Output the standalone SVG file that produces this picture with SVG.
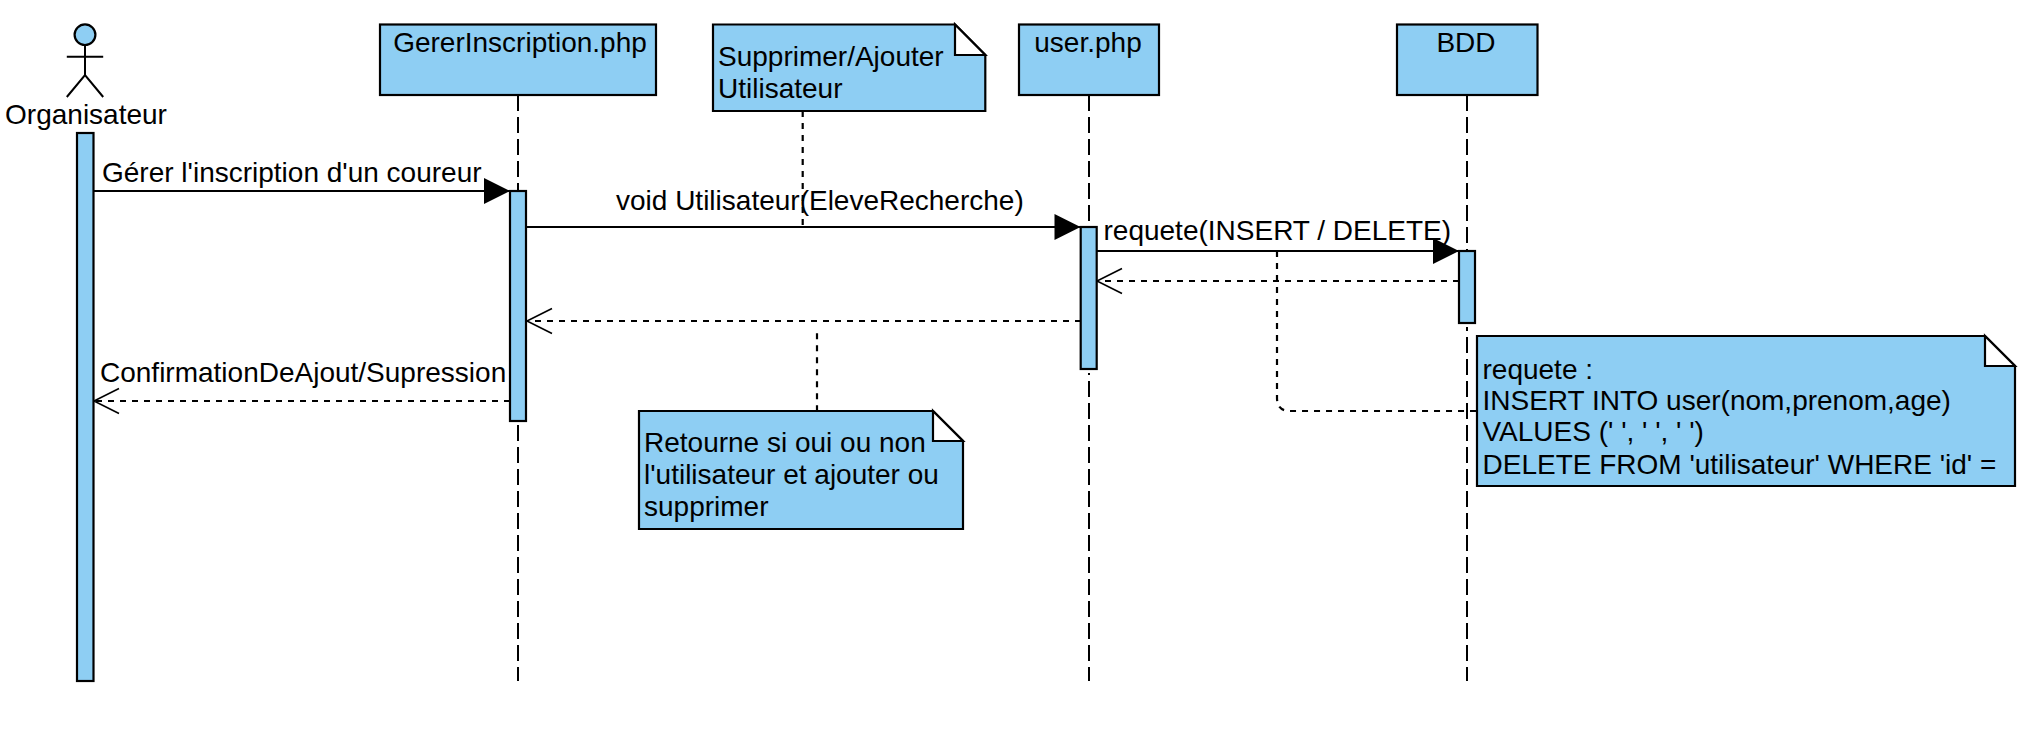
<svg xmlns="http://www.w3.org/2000/svg" width="2034" height="732" viewBox="0 0 2034 732">
<style>
text { font-family: "Liberation Sans", Arial, Helvetica, sans-serif; font-size: 28px; fill: #000; }
.box { fill: #8ecef3; stroke: #000; stroke-width: 2.2; }
.fold { fill: #fff; stroke: #000; stroke-width: 2.2; stroke-linejoin: miter; }
.life { fill: none; stroke: #000; stroke-width: 2; stroke-dasharray: 16 6; }
.up { stroke-dashoffset: 2; }
.msg { fill: none; stroke: #000; stroke-width: 2.2; marker-end: url(#filled); }
.ret { fill: none; stroke: #000; stroke-width: 2.2; stroke-dasharray: 6 6; marker-end: url(#open); }
.link { fill: none; stroke: #000; stroke-width: 2.2; stroke-dasharray: 6 6; }
.mid { text-anchor: middle; }
</style>
<defs>
<marker id="filled" markerUnits="userSpaceOnUse" markerWidth="28" markerHeight="28" refX="26" refY="13" orient="auto" overflow="visible"><path d="M0 0 L26 13 L0 26 Z" fill="#000"/></marker>
<marker id="open" markerUnits="userSpaceOnUse" markerWidth="28" markerHeight="28" refX="25" refY="12.5" orient="auto" overflow="visible"><path d="M0 0 L25 12.5 L0 25" fill="none" stroke="#000" stroke-width="1.6"/></marker>
</defs>
<rect width="2034" height="732" fill="#fff"/>
<g id="lifelines">
<path class="life" d="M518 95 V191"/>
<path class="life" d="M518 425 V681"/>
<path class="life" d="M1089 95 V222"/>
<path class="life up" d="M1089 681 V373"/>
<path class="life" d="M1467 95 V251"/>
<path class="life up" d="M1467 681 V327"/>
</g>
<g id="connectors">
<path class="link" d="M802.7 111 V227"/>
<path class="link" d="M817 333.3 V411"/>
<path class="link" d="M1277 251 V398 Q1277 411 1290 411 H1477"/>
<path class="msg" d="M92 191 H510"/>
<path class="msg" d="M526 227 H1080.500"/>
<path class="msg" d="M1096 251 H1459"/>
<path class="ret" d="M1459 281 H1097"/>
<path class="ret" d="M1081 321 H527"/>
<path class="ret" d="M510 401 H94"/>
<text x="102" y="182">Gérer l'inscription d'un coureur</text>
<text x="616" y="209.500">void Utilisateur(EleveRecherche)</text>
<text x="1103.500" y="239.500">requete(INSERT / DELETE)</text>
<text x="100" y="382">ConfirmationDeAjout/Supression</text>
</g>
<g id="organisateur">
<ellipse class="box" cx="85" cy="34.7" rx="10.4" ry="10.3"/>
<path d="M85 45 V75 M66.8 56.7 H103.2 M66.8 97 L85 75 L103.2 97" fill="none" stroke="#000" stroke-width="2"/>
<text class="mid" x="86" y="123.500">Organisateur</text>
<rect class="box" x="77" y="133" width="16.5" height="548"/>
</g>
<g id="gererinscription">
<rect class="box" x="380" y="24.5" width="276" height="70.5"/>
<text class="mid" x="520" y="51.500">GererInscription.php</text>
<rect class="box" x="510" y="191" width="16" height="230"/>
</g>
<g id="note-supprimer">
<path class="box" d="M713 24.5 H955 L985.3 55 V111 H713 Z"/>
<path class="fold" d="M955 24.5 V55 H985.3 Z"/>
<text x="718" y="65.500">Supprimer/Ajouter</text>
<text x="718" y="97.500">Utilisateur</text>
</g>
<g id="user">
<rect class="box" x="1019" y="24.500" width="140" height="70.5"/>
<text class="mid" x="1088" y="51.500">user.php</text>
<rect class="box" x="1080.700" y="227" width="16" height="142"/>
</g>
<g id="bdd">
<rect class="box" x="1397" y="24.5" width="140.5" height="70.5"/>
<text class="mid" x="1466" y="51.500">BDD</text>
<rect class="box" x="1459" y="251" width="16" height="72"/>
</g>
<g id="note-retourne">
<path class="box" d="M639 411 H933 L963 441 V529 H639 Z"/>
<path class="fold" d="M933 411 V441 H963 Z"/>
<text x="644" y="452">Retourne si oui ou non</text>
<text x="644" y="483.500">l'utilisateur et ajouter ou</text>
<text x="644" y="515.500">supprimer</text>
</g>
<g id="note-requete">
<path class="box" d="M1477 336 H1985 L2015 366 V486 H1477 Z"/>
<path class="fold" d="M1985 336 V366 H2015 Z"/>
<text x="1482.500" y="378.500">requete :</text>
<text x="1482.500" y="409.500">INSERT INTO user(nom,prenom,age)</text>
<text x="1482.500" y="441">VALUES (' ', ' ', ' ')</text>
<text x="1482.500" y="473.500">DELETE FROM 'utilisateur' WHERE 'id' =</text>
</g>
</svg>
